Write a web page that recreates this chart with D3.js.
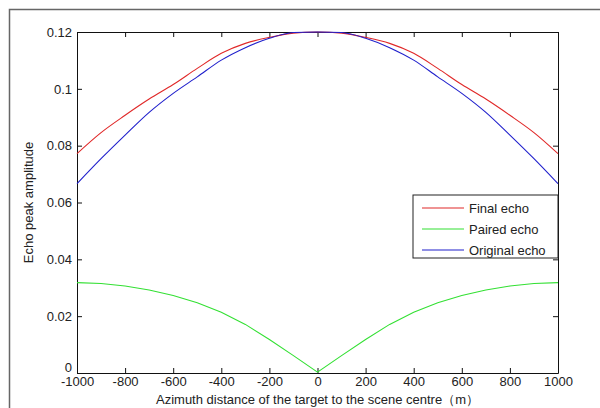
<!DOCTYPE html>
<html>
<head>
<meta charset="utf-8">
<script src="https://cdn.jsdelivr.net/npm/d3@7"></script>
<style>
  body { margin: 0; background: #fff; }
  text { font-family: "Liberation Sans", Arial, sans-serif; fill: #222; }
</style>
</head>
<body>
<div class="chart"></div>
<script>
var svgWidth = 600;
var svgHeight = 408;

var margin = { top: 32, right: 42, bottom: 35, left: 77 };
var width = svgWidth - margin.left - margin.right;
var height = svgHeight - margin.top - margin.bottom;

// values
var distance = [-1000, -900, -800, -700, -600, -500, -400, -300, -200, -100, 0,
  100, 200, 300, 400, 500, 600, 700, 800, 900, 1000];
var finalEcho = [0.0772, 0.0846, 0.0907, 0.0964, 0.1015, 0.1072, 0.1125, 0.1160, 0.1181, 0.1196, 0.1200,
  0.1196, 0.1181, 0.1160, 0.1125, 0.1072, 0.1015, 0.0964, 0.0907, 0.0846, 0.0772];
var pairedEcho = [0.0318, 0.0315, 0.0306, 0.0292, 0.0273, 0.0247, 0.0214, 0.0171, 0.0118, 0.0061, 0.0003,
  0.0061, 0.0118, 0.0171, 0.0214, 0.0247, 0.0273, 0.0292, 0.0306, 0.0315, 0.0318];
var originalEcho = [0.0666, 0.0754, 0.0837, 0.0917, 0.0984, 0.1042, 0.1101, 0.1145, 0.1178, 0.1198, 0.1200,
  0.1198, 0.1178, 0.1145, 0.1101, 0.1042, 0.0984, 0.0917, 0.0837, 0.0754, 0.0666];

var xTicks = [-1000, -800, -600, -400, -200, 0, 200, 400, 600, 800, 1000];
var yTicks = [0, 0.02, 0.04, 0.06, 0.08, 0.1, 0.12];

var seriesNames = ["Final echo", "Paired echo", "Original echo"];
var seriesColors = ["#e02828", "#33e033", "#2020cc"];

var series = [finalEcho, pairedEcho, originalEcho].map(function(vals, i) {
  return {
    name: seriesNames[i],
    color: seriesColors[i],
    points: distance.map(function(d, j) { return { x: d, y: vals[j] }; })
  };
});

var svg = d3.select(".chart")
  .append("svg")
  .attr("width", svgWidth)
  .attr("height", svgHeight);

// outer figure frame
svg.append("path")
  .attr("d", "M9.5," + svgHeight + "V9.5H" + svgWidth)
  .attr("fill", "none")
  .attr("stroke", "#666")
  .attr("stroke-width", 1.5);

var chartGroup = svg.append("g")
  .attr("transform", `translate(${margin.left}, ${margin.top})`);

var xScale = d3.scaleLinear().domain([-1000, 1000]).range([0, width]);
var yScale = d3.scaleLinear().domain([0, 0.12]).range([height, 0]);

function fmtY(d) { return d === 0 ? "0" : String(+d.toFixed(2)); }

var bottomAxis = d3.axisBottom(xScale).tickValues(xTicks).tickSizeInner(-5).tickSizeOuter(0).tickPadding(4)
  .tickFormat(d => String(d));
var topAxis = d3.axisTop(xScale).tickValues(xTicks).tickSizeInner(-5).tickSizeOuter(0).tickFormat("");
var leftAxis = d3.axisLeft(yScale).tickValues(yTicks).tickSizeInner(-5).tickSizeOuter(0).tickPadding(5).tickFormat(fmtY);
var rightAxis = d3.axisRight(yScale).tickValues(yTicks).tickSizeInner(-5).tickSizeOuter(0).tickFormat("");

chartGroup.append("g")
  .attr("class", "axis")
  .attr("transform", `translate(0, ${height})`)
  .call(bottomAxis);
chartGroup.append("g").attr("class", "axis").call(topAxis);
chartGroup.append("g").attr("class", "axis y-left").call(leftAxis);
chartGroup.append("g")
  .attr("class", "axis")
  .attr("transform", `translate(${width}, 0)`)
  .call(rightAxis);

chartGroup.selectAll(".axis path").attr("stroke", "#111");
chartGroup.selectAll(".axis line").attr("stroke", "#111");
chartGroup.selectAll(".axis text")
  .style("font-size", "13px")
  .style("font-family", "'Liberation Sans', Arial, sans-serif")
  .attr("fill", "#222");

// the zero label sits just above the x tick labels, like the original
chartGroup.selectAll(".y-left text")
  .filter(d => d === 0)
  .attr("dy", "-0.1em");

var line = d3.line()
  .x(d => xScale(d.x))
  .y(d => yScale(d.y));

chartGroup.selectAll(".series")
  .data(series)
  .enter()
  .append("path")
  .attr("class", "series")
  .attr("fill", "none")
  .attr("stroke", d => d.color)
  .attr("stroke-width", 1.1)
  .attr("d", function(d) {
    var curve = d.name === "Paired echo" ? d3.curveLinear : d3.curveMonotoneX;
    return line.curve(curve)(d.points);
  });

// legend
var legend = chartGroup.append("g")
  .attr("transform", `translate(${width - 145}, 163)`);

legend.append("rect")
  .attr("width", 145)
  .attr("height", 63)
  .attr("fill", "#fff")
  .attr("stroke", "#222");

var legendItem = legend.selectAll(".item")
  .data(series)
  .enter()
  .append("g")
  .attr("class", "item")
  .attr("transform", (d, i) => `translate(0, ${13 + i * 21})`);

legendItem.append("line")
  .attr("x1", 9)
  .attr("x2", 51)
  .attr("stroke", d => d.color)
  .attr("stroke-width", 1.1);

legendItem.append("text")
  .attr("x", 56)
  .attr("dy", "0.35em")
  .style("font-size", "13px")
  .text(d => d.name);

chartGroup.append("text")
  .attr("transform", "rotate(-90)")
  .attr("y", 0 - margin.left + 33)
  .attr("x", 0 - (height / 2))
  .attr("text-anchor", "middle")
  .style("font-size", "13px")
  .text("Echo peak amplitude");

chartGroup.append("text")
  .attr("transform", `translate(${width / 2}, ${height + 31})`)
  .attr("text-anchor", "middle")
  .style("font-size", "13px")
  .text("Azimuth distance of the target  to the scene centre（m）");
</script>
</body>
</html>
